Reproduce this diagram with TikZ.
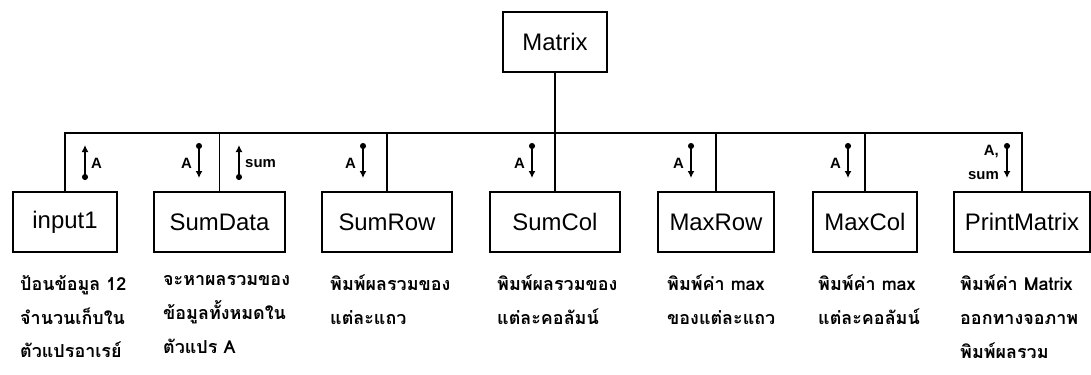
\documentclass[tikz,border=0pt]{standalone}
\usepackage{fontspec}
\setmainfont{Liberation Sans}
\newfontfamily\thai[Script=Thai]{Loma}
\usetikzlibrary{arrows.meta}
\tikzset{
  box/.style={draw, line width=1.2bp, minimum height=60bp, inner sep=0pt,
    font=\fontsize{24}{28}\selectfont},
  link/.style={line width=1.2bp},
  couple/.style={line width=1.4bp, {Circle[length=6bp]}-{Latex[length=7bp,width=7bp]}},
  lbl/.style={inner sep=0pt, font=\bfseries\fontsize{15}{15}\selectfont},
  desc/.style={inner sep=0pt, anchor=north west, align=left,
    font=\thai\bfseries\fontsize{18}{34}\selectfont}
}
\begin{document}
\begin{tikzpicture}[x=1bp,y=-1bp]
\useasboundingbox[fill=white] (0,0) rectangle (1091,374);
% boxes
\node[box, minimum width=104bp] (matrix) at (555,42) {Matrix};
\node[box, minimum width=104bp] (input1) at (65,222) {input1};
\node[box, minimum width=131bp] (sumdata) at (219.5,222) {SumData};
\node[box, minimum width=130bp] (sumrow) at (387,222) {SumRow};
\node[box, minimum width=130bp] (sumcol) at (555,222) {SumCol};
\node[box, minimum width=116bp] (maxrow) at (716,222) {MaxRow};
\node[box, minimum width=104bp] (maxcol) at (865,222) {MaxCol};
\node[box, minimum width=136bp] (printmatrix) at (1022,222) {PrintMatrix};
% bus
\coordinate (bus) at (555,133);
\draw[link] (matrix.south) -- (bus);
\draw[link] (input1.north) -- (input1.north |- bus) -- (printmatrix.north |- bus) -- (printmatrix.north);
\foreach \n in {sumdata,sumrow,sumcol,maxrow,maxcol}
  \draw[link] (\n.north) -- (\n.north |- bus);
% couples
\draw[couple] (85,180) -- (85,145);
\node[lbl, anchor=west] (la1) at (91,163) {A};
\draw[couple] (199,143) -- (199,178);
\node[lbl, anchor=east] (la2) at (192,163) {A};
\draw[couple] (239,180) -- (239,145);
\node[lbl, anchor=west] (ls2) at (245,164) {sum};
\draw[couple] (363,143) -- (363,178);
\node[lbl, anchor=east] (la3) at (356,163) {A};
\draw[couple] (532,143) -- (532,178);
\node[lbl, anchor=east] (la4) at (525,163) {A};
\draw[couple] (691,143) -- (691,178);
\node[lbl, anchor=east] (la5) at (684,163) {A};
\draw[couple] (848,143) -- (848,178);
\node[lbl, anchor=east] (la6) at (841,163) {A};
\draw[couple] (1007,143) -- (1007,178);
\node[lbl, anchor=east] (la7) at (999,152) {A,};
\node[lbl, anchor=east] (ls7) at (999,176) {sum};
% descriptions
\node[desc] (d1) at (20,275) {ป้อนข้อมูล 12\\จำนวนเก็บใน\\ตัวแปรอาเรย์};
\node[desc] (d2) at (163,275) {จะหาผลรวมของ\\ข้อมูลทั้งหมดใน\\ตัวแปร A};
\node[desc] (d3) at (330,275) {พิมพ์ผลรวมของ\\แต่ละแถว};
\node[desc] (d4) at (497,275) {พิมพ์ผลรวมของ\\แต่ละคอลัมน์};
\node[desc] (d5) at (667,275) {พิมพ์ค่า max\\ของแต่ละแถว};
\node[desc] (d6) at (818,275) {พิมพ์ค่า max\\แต่ละคอลัมน์};
\node[desc] (d7) at (960,275) {พิมพ์ค่า Matrix\\ออกทางจอภาพ\\พิมพ์ผลรวม};
\end{tikzpicture}
\end{document}
